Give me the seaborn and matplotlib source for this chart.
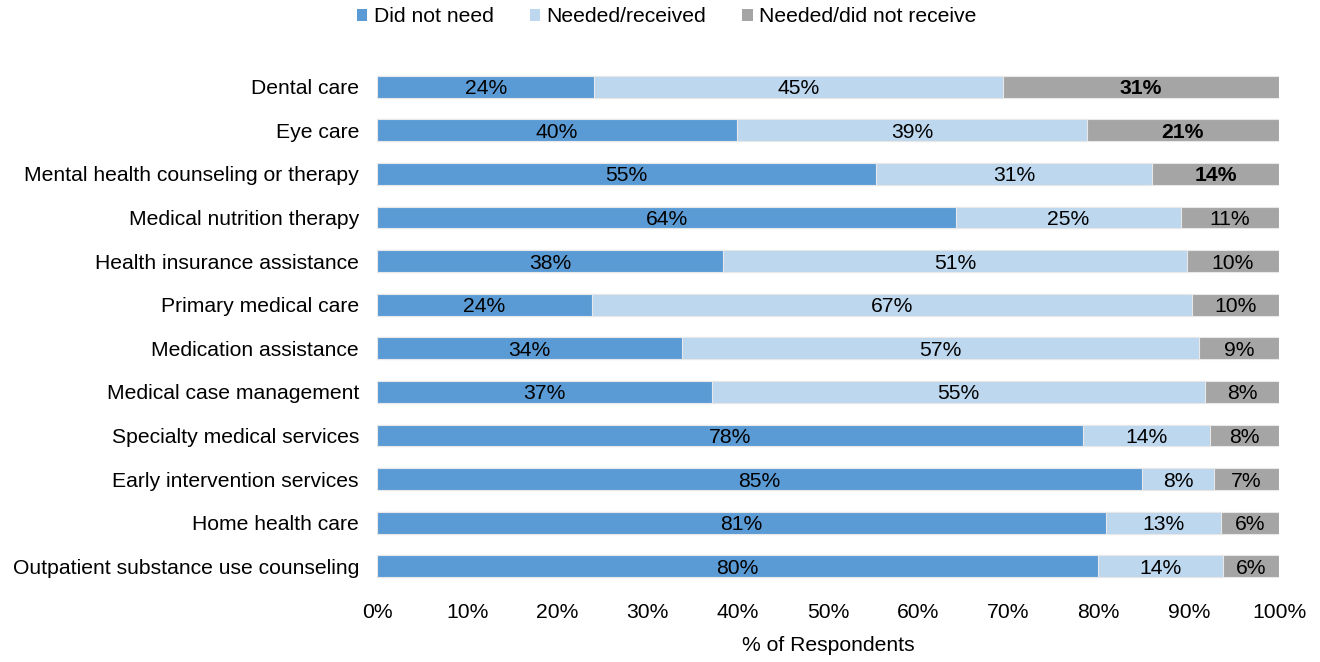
import matplotlib
matplotlib.use("Agg")
import matplotlib.pyplot as plt
import seaborn as sns
import pandas as pd
import numpy as np
from matplotlib.patches import Patch

categories = [
    "Dental care",
    "Eye care",
    "Mental health counseling or therapy",
    "Medical nutrition therapy",
    "Health insurance assistance",
    "Primary medical care",
    "Medication assistance",
    "Medical case management",
    "Specialty medical services",
    "Early intervention services",
    "Home health care",
    "Outpatient substance use counseling",
]
did_not_need = [24.1, 39.9, 55.3, 64.2, 38.4, 23.8, 33.8, 37.1, 78.3, 84.8, 80.8, 79.9]
needed_received = [45.3, 38.8, 30.6, 24.9, 51.4, 66.6, 57.3, 54.7, 14.1, 8.0, 12.8, 13.9]
needed_not_received = [30.6, 21.3, 14.1, 10.9, 10.2, 9.6, 8.9, 8.2, 7.6, 7.2, 6.4, 6.2]
bold_gray = [True, True, True, False, False, False, False, False, False, False, False, False]
series_names = ["Did not need", "Needed/received", "Needed/did not receive"]
colors = ["#5B9BD5", "#BDD7EE", "#A5A5A5"]
xticks = [0, 10, 20, 30, 40, 50, 60, 70, 80, 90, 100]

sns.set_theme(style="white")
plt.rcParams["font.family"] = ["Liberation Sans", "DejaVu Sans"]
plt.rcParams["text.color"] = "black"
plt.rcParams["axes.labelcolor"] = "black"

df = pd.DataFrame({
    "category": categories,
    "a": did_not_need,
    "b": needed_received,
    "c": needed_not_received,
})
df["cum1"] = df["a"]
df["cum2"] = df["a"] + df["b"]
df["cum3"] = df["a"] + df["b"] + df["c"]

fig = plt.figure(figsize=(13.2, 6.62), dpi=100)
ax = fig.add_axes([377/1320, 1-588/662, (1279-377)/1320, (588-65)/662])

for col, color in zip(["cum3", "cum2", "cum1"], colors[::-1]):
    sns.barplot(data=df, x=col, y="category", order=categories, color=color,
                saturation=1, width=0.5, edgecolor="#E8E8E8", linewidth=0.8,
                ax=ax, orient="h")

fs = 15.2
lefts = [np.zeros(len(categories)), df["cum1"].values, df["cum2"].values]
vals = [df["a"].values, df["b"].values, df["c"].values]
for s in range(3):
    for i in range(len(categories)):
        v = vals[s][i]
        bold = (s == 2 and bold_gray[i])
        ax.text(lefts[s][i] + v / 2, i, f"{round(v):d}%", ha="center",
                va="center_baseline", fontsize=fs, color="black",
                fontweight="bold" if bold else "normal")

ax.set_xlim(0, 100)
ax.set_ylim(len(categories) - 0.5, -0.5)
ax.set_xticks(xticks)
ax.set_xticklabels([f"{t}%" for t in xticks])
ax.set_xlabel("% of Respondents", fontsize=fs, labelpad=10, color="black")
ax.set_ylabel("")
ax.tick_params(axis="both", length=0, labelsize=fs, colors="black")
ax.tick_params(axis="y", pad=13)
ax.tick_params(axis="x", pad=11)
for sp in ax.spines.values():
    sp.set_visible(False)

handles = [Patch(facecolor=c, edgecolor="none") for c in colors]
leg = fig.legend(handles, series_names, loc="center", bbox_to_anchor=(0.505, 1-17/662),
                 ncol=3, frameon=False, fontsize=fs, handlelength=0.5, handleheight=0.5,
                 handletextpad=0.3, columnspacing=1.7)
for t in leg.get_texts():
    t.set_color("black")

fig.savefig("out.png", dpi=100)
